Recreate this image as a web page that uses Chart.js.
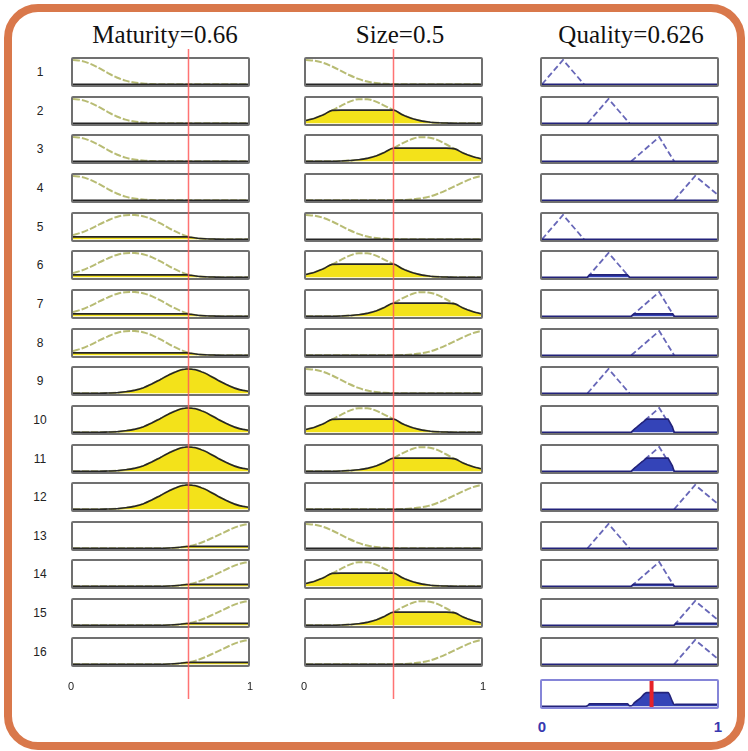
<!DOCTYPE html>
<html>
<head>
<meta charset="utf-8">
<script src="https://cdn.jsdelivr.net/npm/chart.js@4.4.1/dist/chart.umd.min.js"></script>
<style>
  html, body { margin: 0; padding: 0; background: #fff; }
  #page { position: relative; width: 748px; height: 751px; overflow: hidden; background: #fff; font-family: "Liberation Sans", Arial, sans-serif; }
  .frame { position: absolute; left: 4px; top: 4px; width: 741px; height: 746px; box-sizing: border-box; border: 8px solid #d9784b; border-radius: 34px; }
  .title { position: absolute; top: 22px; line-height: 25px; font-family: "Liberation Serif", "Times New Roman", serif; font-size: 25px; color: #111; transform: translateX(-50%); white-space: nowrap; }
  .rowlabel { position: absolute; width: 30px; height: 30px; line-height: 30px; text-align: center; font-size: 12px; color: #222; }
  .panel { position: absolute; box-sizing: border-box; border: 2px solid #707070; border-radius: 2px; background: #fff; }
  .panel.agg { border-color: #8585d8; }
  .panel canvas, .overlay { display: block; }
  .overlay { position: absolute; pointer-events: none; }
  .tick { position: absolute; width: 20px; margin-left: -10px; text-align: center; font-size: 11px; color: #222; line-height: 14px; }
  .tick.q { font-size: 15px; font-weight: bold; color: #3838b0; line-height: 18px; }
</style>
</head>
<body>
<div id="page"><div class="frame"></div></div>
<script>
// inputs and output
const maturityInput = 0.66;
const sizeInput = 0.5;
const qualityOutput = 0.626;
const titles = ['Maturity=0.66', 'Size=0.5', 'Quality=0.626'];

// sample positions for the input membership curves
const gridX = [0, 0.05, 0.1, 0.15, 0.2, 0.25, 0.3, 0.35, 0.4, 0.45, 0.5,
               0.55, 0.6, 0.65, 0.7, 0.75, 0.8, 0.85, 0.9, 0.95, 1];

// Maturity membership functions
const maturityLow      = [1.00, 0.96, 0.84, 0.66, 0.46, 0.28, 0.15, 0.07, 0.03, 0.01, 0, 0, 0, 0, 0, 0, 0, 0, 0, 0, 0];
const maturityMid      = [0.17, 0.28, 0.43, 0.61, 0.78, 0.92, 0.99, 1.00, 0.95, 0.83, 0.65, 0.45, 0.27, 0.13, 0.05, 0.02, 0.01, 0, 0, 0, 0];
const maturityHigh     = [0, 0, 0, 0, 0.01, 0.02, 0.06, 0.12, 0.22, 0.38, 0.57, 0.76, 0.92, 1.00, 0.97, 0.84, 0.65, 0.45, 0.28, 0.15, 0.08];
const maturityVeryHigh = [0, 0, 0, 0, 0, 0, 0, 0, 0, 0, 0, 0.01, 0.03, 0.07, 0.15, 0.28, 0.44, 0.61, 0.78, 0.92, 1.00];
const maturityLevels   = [0, 0.1, 1, 0.08];

// Size membership functions
const sizeLow      = [1.00, 0.97, 0.88, 0.73, 0.55, 0.37, 0.22, 0.11, 0.05, 0.02, 0.01, 0, 0, 0, 0, 0, 0, 0, 0, 0, 0];
const sizeMid      = [0.11, 0.21, 0.35, 0.53, 0.72, 0.89, 0.99, 0.99, 0.89, 0.72, 0.54, 0.35, 0.21, 0.11, 0.05, 0.02, 0.01, 0, 0, 0, 0];
const sizeHigh     = [0, 0, 0, 0, 0.01, 0.03, 0.06, 0.12, 0.22, 0.37, 0.54, 0.74, 0.90, 0.99, 0.98, 0.88, 0.70, 0.51, 0.33, 0.20, 0.10];
const sizeVeryHigh = [0, 0, 0, 0, 0, 0, 0, 0, 0, 0, 0, 0.01, 0.03, 0.07, 0.14, 0.26, 0.41, 0.58, 0.75, 0.90, 1.00];
const sizeLevels   = [0, 0.54, 0.54, 0];

// Quality membership functions (triangles)
const qualityLowX      = [0, 0.12, 0.24];
const qualityMidX      = [0.26, 0.38, 0.5];
const qualityHighX     = [0.51, 0.67, 0.755];
const qualityVeryHighX = [0.755, 0.875, 1.0];
const qualityTriY      = [0, 1, 0];
const qualityVeryHighY = [0, 1, 0.25];

// clipped output shapes
const fillNoneX     = [0, 1];
const fillNoneY     = [0, 0];
const fillMidLowX   = [0, 0.26, 0.272, 0.488, 0.5, 1];
const fillMidLowY   = [0, 0, 0.1, 0.1, 0, 0];
const fillHighLowX  = [0, 0.51, 0.526, 0.746, 0.755, 1];
const fillHighLowY  = [0, 0, 0.1, 0.1, 0, 0];
const fillHighHalfX = [0, 0.51, 0.53, 0.56, 0.598, 0.72, 0.745, 0.755, 1];
const fillHighHalfY = [0, 0, 0.14, 0.32, 0.54, 0.54, 0.22, 0, 0];
const fillHighThinX = [0, 0.51, 0.523, 0.748, 0.755, 1];
const fillHighThinY = [0, 0, 0.08, 0.08, 0, 0];
const fillTopThinX  = [0, 0.755, 0.765, 1];
const fillTopThinY  = [0, 0, 0.08, 0.08];

// rule base: which membership function each of the 16 rules uses
const ruleMaturity    = [0, 0, 0, 0, 1, 1, 1, 1, 2, 2, 2, 2, 3, 3, 3, 3];
const ruleSize        = [0, 1, 2, 3, 0, 1, 2, 3, 0, 1, 2, 3, 0, 1, 2, 3];
const ruleQuality     = [0, 1, 2, 3, 0, 1, 2, 2, 1, 2, 2, 3, 1, 2, 3, 3];
const ruleQualityFill = [0, 0, 0, 0, 0, 1, 2, 0, 0, 3, 3, 0, 0, 4, 5, 0];

// aggregated output
const aggregateX = [0, 0.25, 0.262, 0.272, 0.488, 0.5, 0.51, 0.53, 0.56, 0.598, 0.72, 0.745, 0.755, 0.765, 1];
const aggregateY = [0, 0, 0.03, 0.1, 0.1, 0.02, 0.02, 0.16, 0.32, 0.56, 0.56, 0.2, 0.07, 0.08, 0.08];

const maturityCurves = [maturityLow, maturityMid, maturityHigh, maturityVeryHigh];
const sizeCurves = [sizeLow, sizeMid, sizeHigh, sizeVeryHigh];
const qualityShapesX = [qualityLowX, qualityMidX, qualityHighX, qualityVeryHighX];
const qualityShapesY = [qualityTriY, qualityTriY, qualityTriY, qualityVeryHighY];
const qualityFillsX = [fillNoneX, fillMidLowX, fillHighLowX, fillHighHalfX, fillHighThinX, fillTopThinX];
const qualityFillsY = [fillNoneY, fillMidLowY, fillHighLowY, fillHighHalfY, fillHighThinY, fillTopThinY];

// layout
const page = document.getElementById('page');
const columnLeft = [71, 304, 540];
const titleCenter = [165, 400, 631];
const panelWidth = 179, panelHeight = 30;
const firstTop = 57, rowStep = 38.65;

function pts(xs, ys) {
  return xs.map((x, i) => ({ x: x, y: ys[i] }));
}

function baseOptions(yMin, yMax) {
  return {
    responsive: false,
    animation: false,
    events: [],
    layout: { padding: 0 },
    plugins: { legend: { display: false }, tooltip: { enabled: false } },
    elements: { point: { radius: 0 } },
    scales: {
      x: { type: 'linear', min: 0, max: 1, display: false },
      y: { type: 'linear', min: yMin, max: yMax, display: false }
    }
  };
}

function addPanel(left, top, cls) {
  const div = document.createElement('div');
  div.className = 'panel' + (cls ? ' ' + cls : '');
  div.style.left = left + 'px';
  div.style.top = top + 'px';
  div.style.width = panelWidth + 'px';
  div.style.height = panelHeight + 'px';
  const cv = document.createElement('canvas');
  cv.width = panelWidth - 4;
  cv.height = panelHeight - 4;
  div.appendChild(cv);
  page.appendChild(div);
  return cv;
}

function addText(cls, text, left, top) {
  const d = document.createElement('div');
  d.className = cls;
  d.textContent = text;
  d.style.left = left + 'px';
  d.style.top = top + 'px';
  page.appendChild(d);
}

function inputPanel(cv, curve, level) {
  new Chart(cv, {
    type: 'line',
    data: {
      datasets: [
        {
          data: pts(gridX, curve.map(v => Math.min(v, level))),
          borderColor: '#262626', borderWidth: 1.6,
          backgroundColor: '#f3e21a', fill: 'origin',
          cubicInterpolationMode: 'monotone'
        },
        {
          data: pts(gridX, curve),
          borderColor: '#b8bc74', borderWidth: 2, borderDash: [7, 2],
          fill: false, cubicInterpolationMode: 'monotone'
        }
      ]
    },
    options: baseOptions(-0.03, 1.04)
  });
}

function outputPanel(cv, shape, fillIdx) {
  new Chart(cv, {
    type: 'line',
    data: {
      datasets: [
        {
          data: pts(qualityFillsX[fillIdx], qualityFillsY[fillIdx]),
          borderColor: '#23237a', borderWidth: 1.6,
          backgroundColor: '#3444b8', fill: 'origin', tension: 0
        },
        {
          data: pts(qualityShapesX[shape], qualityShapesY[shape]),
          borderColor: '#6767b8', borderWidth: 1.8, borderDash: [6, 3],
          fill: false, tension: 0
        }
      ]
    },
    options: baseOptions(-0.03, 1.04)
  });
}

titles.forEach((t, c) => {
  const d = document.createElement('div');
  d.className = 'title';
  d.textContent = t;
  d.style.left = titleCenter[c] + 'px';
  page.appendChild(d);
});

for (let r = 0; r < 16; r++) {
  const top = Math.round(firstTop + r * rowStep);
  addText('rowlabel', String(r + 1), 25, top);
  inputPanel(addPanel(columnLeft[0], top), maturityCurves[ruleMaturity[r]], maturityLevels[ruleMaturity[r]]);
  inputPanel(addPanel(columnLeft[1], top), sizeCurves[ruleSize[r]], sizeLevels[ruleSize[r]]);
  outputPanel(addPanel(columnLeft[2], top), ruleQuality[r], ruleQualityFill[r]);
}

// aggregated output panel
const aggCanvas = addPanel(columnLeft[2], 679, 'agg');
new Chart(aggCanvas, {
  type: 'line',
  data: {
    datasets: [
      {
        data: [{ x: qualityOutput, y: -0.1 }, { x: qualityOutput, y: 1.1 }],
        borderColor: '#e5222a', borderWidth: 4, fill: false
      },
      {
        data: pts(aggregateX, aggregateY),
        borderColor: '#23237a', borderWidth: 1.6,
        backgroundColor: '#3444b8', fill: 'origin', cubicInterpolationMode: 'monotone'
      }
    ]
  },
  options: baseOptions(-0.03, 1.04)
});

// red input lines across the Maturity and Size columns
[maturityInput, sizeInput].forEach((value, c) => {
  const cv = document.createElement('canvas');
  cv.className = 'overlay';
  cv.width = panelWidth - 4;
  cv.height = 650;
  cv.style.left = (columnLeft[c] + 2) + 'px';
  cv.style.top = '49px';
  page.appendChild(cv);
  new Chart(cv, {
    type: 'line',
    data: {
      datasets: [{
        data: [{ x: value, y: 0 }, { x: value, y: 1 }],
        borderColor: 'rgba(255, 90, 90, 0.85)', borderWidth: 1.5, fill: false
      }]
    },
    options: baseOptions(0, 1)
  });
});

// axis end labels
addText('tick', '0', columnLeft[0], 679);
addText('tick', '1', columnLeft[0] + panelWidth, 679);
addText('tick', '0', columnLeft[1], 679);
addText('tick', '1', columnLeft[1] + panelWidth, 679);
addText('tick q', '0', columnLeft[2] + 2, 718);
addText('tick q', '1', columnLeft[2] + panelWidth - 1, 718);
</script>
</body>
</html>
